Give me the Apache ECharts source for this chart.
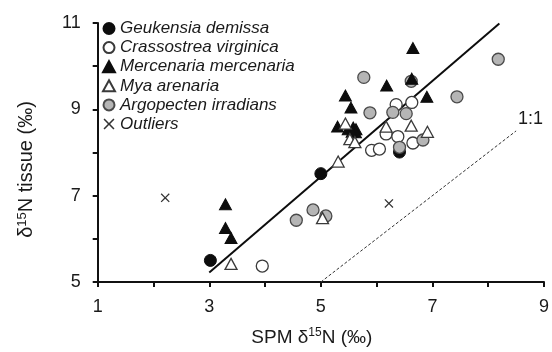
<!DOCTYPE html>
<html><head><meta charset="utf-8">
<script src="https://cdn.jsdelivr.net/npm/echarts@6/dist/echarts.min.js"></script>
<style>html,body{margin:0;padding:0;background:#fff}#c{width:552px;height:352px}</style>
</head><body><div id="c"></div>
<script>
const xTicks = [1, 3, 5, 7, 9];
const yTicks = [5, 7, 9, 11];
const geukensia = [[3.02,5.50],[5.00,7.51],[6.41,8.01]];
const crassostrea = [[3.95,5.37],[5.91,8.05],[6.05,8.08],[6.17,8.43],[6.38,8.37],[6.65,8.22],[6.35,9.11],[6.63,9.16]];
const mercenaria = [[3.29,6.80],[3.29,6.25],[3.39,6.02],[5.30,8.60],[5.49,8.54],[5.58,8.58],[5.63,8.54],[5.62,8.47],[5.56,8.48],[5.54,9.04],[5.44,9.32],[6.18,9.55],[6.63,9.71],[6.65,10.42],[6.90,9.29]];
const mya = [[3.39,5.42],[5.03,6.48],[5.31,7.79],[5.44,8.67],[5.52,8.31],[5.61,8.24],[6.17,8.60],[6.62,8.62],[6.91,8.48]];
const argopecten = [[4.56,6.43],[4.86,6.67],[5.09,6.53],[5.77,9.74],[5.88,8.92],[6.29,8.93],[6.53,8.90],[6.62,9.65],[6.41,8.12],[6.83,8.29],[7.44,9.29],[8.18,10.16]];
const outliers = [[2.21,6.95],[6.22,6.82]];
const regression = [[3.0,5.22],[8.2,10.99]];
const oneToOne = [[5,5],[8.5,8.5]];
const names = ['Geukensia demissa','Crassostrea virginica','Mercenaria mercenaria','Mya arenaria','Argopecten irradians','Outliers'];

const FONT = '"Liberation Sans", Arial, sans-serif';
const INK = '#1a1a1a';
const xPath = 'path://M0,1L1,0L5,4L9,0L10,1L6,5L10,9L9,10L5,6L1,10L0,9L4,5Z';
const chart = echarts.init(document.getElementById('c'), null, {renderer:'canvas'});
function sc(name, data, symbol, size, fill, border, bw){
  return {name, type:'scatter', data, symbol, symbolSize:size,
    itemStyle:{color:fill, borderColor:border, borderWidth:bw, opacity:1}, emphasis:{disabled:true}};
}
const axisCommon = {
  axisLine:{show:true, lineStyle:{color:'#111', width:2}},
  axisTick:{show:true, inside:false, length:5, lineStyle:{color:'#111', width:2}},
  splitLine:{show:false},
};
function richName(fs){
  return {n:{fontSize:fs, color:INK, fontFamily:FONT}, s:{fontSize:Math.round(fs*0.65), color:INK, fontFamily:FONT, padding:[0,0,9,0]}};
}
chart.setOption({
  animation:false,
  textStyle:{fontFamily:FONT},
  grid:{left:97.7, right:6, top:23, bottom:67.5},
  legend:{
    orient:'vertical', left:97, top:15, itemGap:2.1, itemWidth:12, itemHeight:11,
    data:names, selectedMode:false,
    textStyle:{fontFamily:FONT, fontStyle:'italic', fontSize:17, color:INK}
  },
  xAxis:Object.assign({type:'value', min:1, max:9, interval:1,
    axisLabel:{fontSize:18, color:INK, margin:16, fontFamily:FONT,
      formatter:v=>xTicks.includes(v)?String(v):''},
    name:'{n|SPM δ}{s|15}{n|N (‰)}', nameLocation:'middle', nameGap:45,
    nameTextStyle:{padding:[0,18,0,0], rich:richName(19)}
  }, axisCommon),
  yAxis:Object.assign({type:'value', min:5, max:11, interval:1,
    axisLabel:{fontSize:18, color:INK, margin:17, fontFamily:FONT,
      formatter:v=>yTicks.includes(v)?String(v):''},
    name:'{n|δ}{s|15}{n|N tissue (‰)}', nameLocation:'middle', nameGap:60,
    nameTextStyle:{padding:[0,34,0,0], rich:richName(20)}
  }, axisCommon),
  series:[
    sc(names[0], geukensia, 'circle', 12, '#0d0d0d', '#0d0d0d', 1),
    sc(names[1], crassostrea, 'circle', 12, '#ffffff', '#3a3a3a', 1.3),
    sc(names[4], argopecten, 'circle', 12, '#b5b5b5', '#4a4a4a', 1.3),
    sc(names[2], mercenaria, 'triangle', [12,11], '#0d0d0d', '#0d0d0d', 1),
    sc(names[3], mya, 'triangle', [12,11], '#ffffff', '#3a3a3a', 1.3),
    sc(names[5], outliers, xPath, 9, '#333333', '#333333', 0),
    {type:'line', data:regression, symbol:'none', lineStyle:{color:'#0d0d0d', width:2}, z:1, silent:true},
    {type:'line', data:oneToOne, symbol:'none', lineStyle:{color:'#333', width:1, type:[3,2]}, z:1, silent:true,
      endLabel:{show:true, formatter:'1:1', offset:[-6,-12], fontSize:18, color:INK, fontFamily:FONT}}
  ]
});
</script></body></html>
